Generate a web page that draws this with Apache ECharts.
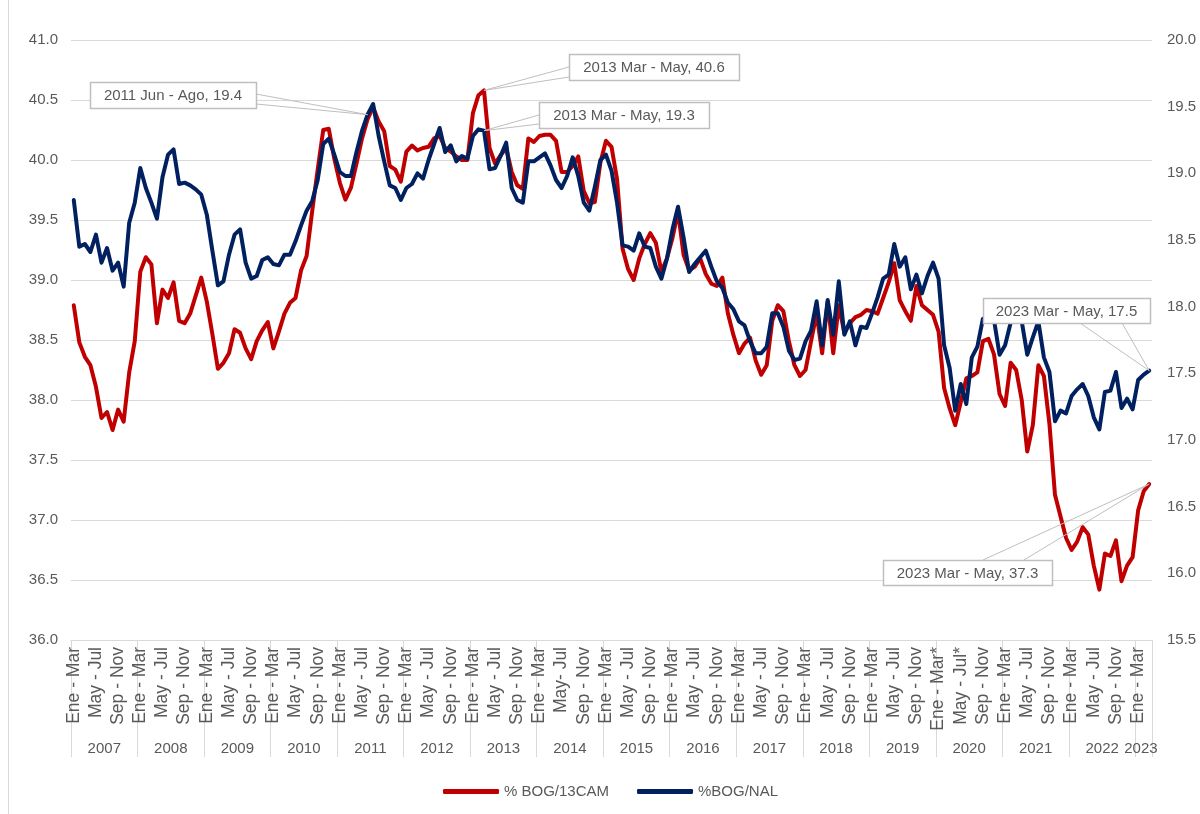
<!DOCTYPE html>
<html lang="es">
<head>
<meta charset="UTF-8">
<title>% BOG/13CAM y %BOG/NAL</title>
<script src="https://cdn.jsdelivr.net/npm/echarts@6/dist/echarts.min.js"></script>
<style>
  html, body { margin: 0; padding: 0; background: #fff; }
  #chart { width: 1200px; height: 814px; }
</style>
</head>
<body>
<div id="chart"></div>
<script>
// trimestres móviles
const periods = ['Ene - Mar', 'Feb - Abr', 'Mar - May', 'Abr - Jun', 'May - Jul', 'Jun - Ago',
                 'Jul - Sep', 'Ago - Oct', 'Sep - Nov', 'Oct - Dic', 'Nov - Ene', 'Dic - Feb'];
const years = [2007, 2008, 2009, 2010, 2011, 2012, 2013, 2014, 2015,
               2016, 2017, 2018, 2019, 2020, 2021, 2022, 2023];
const lastYearPeriods = 3;
const labelFix = { '2014|4': 'May- Jul', '2020|0': 'Ene - Mar*', '2020|4': 'May - Jul*' };

// % BOG/13CAM (eje izquierdo)
const bog13cam = [
  38.79, 38.48, 38.36, 38.29, 38.11, 37.85, 37.90, 37.75, 37.92, 37.82, 38.23, 38.49, // 2007
  39.07, 39.19, 39.13, 38.64, 38.92, 38.85, 38.98, 38.66, 38.64, 38.72, 38.87, 39.02, // 2008
  38.82, 38.55, 38.26, 38.31, 38.39, 38.59, 38.56, 38.43, 38.34, 38.49, 38.58, 38.65, // 2009
  38.43, 38.57, 38.72, 38.81, 38.85, 39.08, 39.20, 39.57, 39.92, 40.25, 40.26, 40.01, // 2010
  39.81, 39.67, 39.77, 39.97, 40.18, 40.34, 40.44, 40.32, 40.24, 39.95, 39.92, 39.82, // 2011
  40.07, 40.12, 40.08, 40.10, 40.11, 40.18, 40.20, 40.10, 40.07, 40.03, 40.00, 40.00, // 2012
  40.39, 40.54, 40.58, 40.10, 39.97, 40.04, 40.10, 39.90, 39.79, 39.76, 40.18, 40.15, // 2013
  40.20, 40.21, 40.21, 40.16, 39.90, 39.90, 39.95, 40.03, 39.74, 39.64, 39.65, 39.98, // 2014
  40.16, 40.11, 39.84, 39.26, 39.09, 39.00, 39.18, 39.30, 39.39, 39.31, 39.07, 39.18, // 2015
  39.35, 39.57, 39.21, 39.08, 39.11, 39.18, 39.05, 38.97, 38.95, 39.02, 38.72, 38.54, // 2016
  38.39, 38.47, 38.52, 38.33, 38.21, 38.29, 38.66, 38.79, 38.74, 38.49, 38.29, 38.20, // 2017
  38.25, 38.49, 38.72, 38.39, 38.82, 38.39, 38.79, 38.56, 38.64, 38.69, 38.71, 38.75, // 2018
  38.74, 38.72, 38.85, 38.98, 39.14, 38.83, 38.74, 38.66, 38.95, 38.79, 38.75, 38.71, // 2019
  38.57, 38.10, 37.93, 37.79, 37.98, 38.18, 38.20, 38.23, 38.49, 38.51, 38.38, 38.05, // 2020
  37.95, 38.31, 38.25, 38.00, 37.57, 37.79, 38.29, 38.20, 37.80, 37.21, 37.03, 36.85, // 2021
  36.75, 36.82, 36.94, 36.88, 36.62, 36.42, 36.72, 36.70, 36.83, 36.49, 36.62, 36.69, // 2022
  37.08, 37.24, 37.30                                                                  // 2023
];

// %BOG/NAL (eje derecho)
const bogNal = [
  18.80, 18.45, 18.47, 18.41, 18.54, 18.33, 18.44, 18.27, 18.33, 18.15, 18.63, 18.78, // 2007
  19.04, 18.89, 18.78, 18.66, 18.97, 19.14, 19.18, 18.92, 18.93, 18.91, 18.88, 18.84, // 2008
  18.69, 18.42, 18.16, 18.19, 18.39, 18.54, 18.58, 18.33, 18.21, 18.23, 18.35, 18.37, // 2009
  18.32, 18.31, 18.39, 18.39, 18.49, 18.61, 18.72, 18.79, 18.95, 19.22, 19.26, 19.14, // 2010
  19.01, 18.98, 18.98, 19.16, 19.32, 19.44, 19.52, 19.28, 19.09, 18.91, 18.89, 18.80, // 2011
  18.89, 18.92, 19.00, 18.96, 19.10, 19.22, 19.34, 19.16, 19.21, 19.09, 19.13, 19.11, // 2012
  19.28, 19.33, 19.32, 19.03, 19.04, 19.13, 19.23, 18.89, 18.80, 18.78, 19.09, 19.09, // 2013
  19.12, 19.15, 19.06, 18.95, 18.89, 18.98, 19.12, 18.98, 18.78, 18.72, 18.90, 19.10, // 2014
  19.14, 19.02, 18.78, 18.46, 18.45, 18.42, 18.55, 18.45, 18.44, 18.30, 18.21, 18.36, // 2015
  18.58, 18.75, 18.52, 18.26, 18.32, 18.37, 18.42, 18.30, 18.19, 18.14, 18.03, 17.98, // 2016
  17.89, 17.86, 17.74, 17.65, 17.65, 17.70, 17.95, 17.95, 17.85, 17.67, 17.60, 17.61, // 2017
  17.74, 17.82, 18.04, 17.71, 18.05, 17.79, 18.19, 17.79, 17.89, 17.71, 17.85, 17.84, // 2018
  17.95, 18.07, 18.21, 18.24, 18.47, 18.30, 18.37, 18.13, 18.24, 18.10, 18.23, 18.33, // 2019
  18.21, 17.71, 17.54, 17.22, 17.42, 17.27, 17.62, 17.70, 17.91, 17.89, 17.90, 17.64, // 2020
  17.71, 17.88, 17.92, 17.89, 17.64, 17.77, 17.89, 17.62, 17.51, 17.14, 17.22, 17.20, // 2021
  17.33, 17.38, 17.42, 17.33, 17.17, 17.08, 17.36, 17.37, 17.51, 17.24, 17.31, 17.23, // 2022
  17.45, 17.49, 17.52                                                                  // 2023
];

// etiquetas de datos: serie, índice, texto, caja [x, y, w, h], base de la flecha
const callouts = [
  { s: 1, i: 53,  text: '2011 Jun - Ago, 19.4',  box: [90, 82, 166, 26],  base: [[256, 94], [256, 104]] },
  { s: 0, i: 74,  text: '2013 Mar - May, 40.6',  box: [569, 54, 170, 26], base: [[569, 67], [569, 77]] },
  { s: 1, i: 74,  text: '2013 Mar - May, 19.3',  box: [539, 102, 170, 26], base: [[539, 115], [539, 124]] },
  { s: 1, i: 194, text: '2023 Mar - May, 17.5',  box: [983, 298, 167, 25], base: [[1080, 323], [1122, 323]] },
  { s: 0, i: 194, text: '2023 Mar - May, 37.3',  box: [883, 560, 169, 25], base: [[983, 560], [1024, 560]] }
];

const categories = [];
const yearOf = [];
years.forEach(function (y, k) {
  const n = k === years.length - 1 ? lastYearPeriods : periods.length;
  for (let p = 0; p < n; p++) {
    categories.push(labelFix[y + '|' + p] || periods[p]);
    yearOf.push(String(y));
  }
});

const FONT = "'Liberation Sans', Arial, sans-serif";
const GREY_TXT = '#595959';
const GRID_LINE = '#d9d9d9';

const chart = echarts.init(document.getElementById('chart'));

const option = {
  backgroundColor: '#fff',
  animation: false,
  textStyle: { fontFamily: FONT },
  grid: { left: 71, right: 48, top: 40, bottom: 174, containLabel: false, outerBoundsMode: 'none' },
  legend: {
    data: ['% BOG/13CAM', '%BOG/NAL'],
    left: 438,
    top: 779,
    icon: 'roundRect',
    itemWidth: 56,
    itemHeight: 5,
    itemGap: 28,
    selectedMode: false,
    textStyle: { color: GREY_TXT, fontSize: 15, fontFamily: FONT }
  },
  xAxis: [
    {
      type: 'category',
      data: categories,
      boundaryGap: true,
      position: 'bottom',
      axisLine: { lineStyle: { color: GRID_LINE, width: 1 } },
      axisTick: { show: false },
      axisLabel: {
        interval: 3, rotate: 90, margin: 7,
        color: GREY_TXT, fontSize: 17.5, fontFamily: FONT, hideOverlap: false
      }
    },
    {
      type: 'category',
      data: yearOf,
      boundaryGap: true,
      position: 'bottom',
      axisLine: { show: false },
      axisTick: {
        show: true, length: 117,
        interval: function (i) { return i % 12 === 0; },
        lineStyle: { color: GRID_LINE, width: 1 }
      },
      axisLabel: {
        interval: function (i) { return i % 12 === 6 || i === categories.length - 2; },
        margin: 101, padding: [0, 5.5, 0, 0],
        color: GREY_TXT, fontSize: 15, fontFamily: FONT, hideOverlap: false
      }
    }
  ],
  yAxis: [
    {
      type: 'value', min: 36, max: 41, interval: 0.5, position: 'left',
      axisLine: { show: false }, axisTick: { show: false },
      splitLine: { lineStyle: { color: GRID_LINE, width: 1 } },
      axisLabel: { formatter: function (v) { return v.toFixed(1); }, color: GREY_TXT, fontSize: 15, margin: 13 }
    },
    {
      type: 'value', min: 15.5, max: 20, interval: 0.5, position: 'right',
      axisLine: { show: false }, axisTick: { show: false }, splitLine: { show: false },
      axisLabel: { formatter: function (v) { return v.toFixed(1); }, color: GREY_TXT, fontSize: 15, margin: 15 }
    }
  ],
  series: [
    {
      name: '% BOG/13CAM', type: 'line', xAxisIndex: 0, yAxisIndex: 0,
      data: bog13cam, symbol: 'none', color: '#C00000',
      lineStyle: { width: 4, color: '#C00000', join: 'round', cap: 'round' }
    },
    {
      name: '%BOG/NAL', type: 'line', xAxisIndex: 0, yAxisIndex: 1,
      data: bogNal, symbol: 'none', color: '#002060',
      lineStyle: { width: 4, color: '#002060', join: 'round', cap: 'round' }
    }
  ]
};

chart.setOption(option);

// cajas de etiquetas con su flecha hacia el punto
const seriesData = [bog13cam, bogNal];
const elements = [
  { type: 'line', z: 100, silent: true,
    shape: { x1: 8.5, y1: 0, x2: 8.5, y2: 814 },
    style: { stroke: GRID_LINE, lineWidth: 1 } }
];
callouts.forEach(function (c) {
  const p = chart.convertToPixel({ seriesIndex: c.s }, [c.i, seriesData[c.s][c.i]]);
  elements.push({
    type: 'polyline', z: 100, silent: true,
    shape: { points: [c.base[0], p, c.base[1]] },
    style: { stroke: '#bfbfbf', lineWidth: 1, fill: null }
  });
  elements.push({
    type: 'rect', z: 101, silent: true,
    shape: { x: c.box[0] + 0.5, y: c.box[1] + 0.5, width: c.box[2], height: c.box[3] },
    style: { fill: '#fff', stroke: '#bfbfbf', lineWidth: 1.5 }
  });
  elements.push({
    type: 'text', z: 102, silent: true,
    style: {
      text: c.text, x: c.box[0] + c.box[2] / 2, y: c.box[1] + c.box[3] / 2 + 1,
      align: 'center', verticalAlign: 'middle',
      fill: GREY_TXT, font: '15px ' + FONT
    }
  });
});
chart.setOption({ graphic: { elements: elements } });
</script>
</body>
</html>
